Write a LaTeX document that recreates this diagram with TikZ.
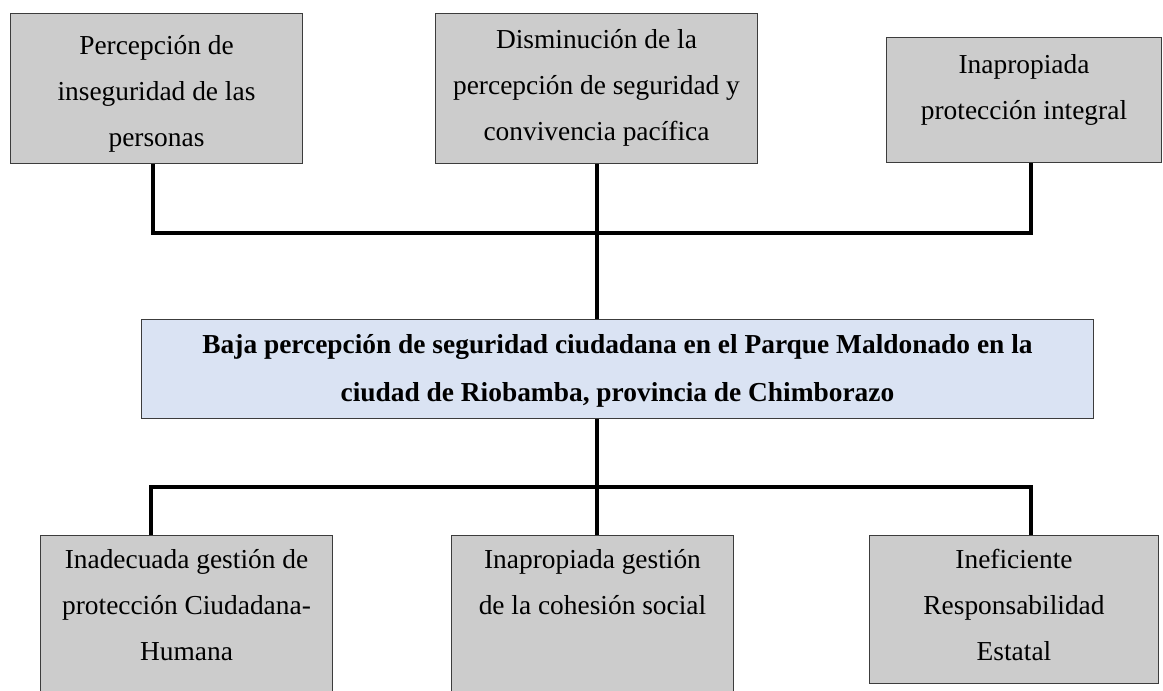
\documentclass[tikz,border=0pt]{standalone}
\usepackage{fontspec}
\setmainfont{Liberation Serif}
\usepackage{tikz}
\usetikzlibrary{positioning}
\usetikzlibrary{calc}

\definecolor{GrisCaja}{HTML}{CCCCCC}
\definecolor{AzulCaja}{HTML}{DAE3F3}
\definecolor{BordeCaja}{HTML}{3C3C3C}

% ancho, alto, primera linea base, texto
\newcommand{\caja}[4]{\parbox[c][#2pt][t]{#1pt}{\centering\rule{0pt}{#3pt}#4}}

\begin{document}
\begin{tikzpicture}[x=1pt,y=-1pt,line join=miter,
  efecto/.style={draw=BordeCaja,fill=GrisCaja,line width=1pt,inner sep=0pt,anchor=north west,font=\fontsize{27.4}{46}\selectfont},
  problema/.style={efecto,fill=AzulCaja,font=\fontsize{27.4}{48}\selectfont\bfseries},
  conector/.style={line width=4.5pt,color=black}]
\clip (0,0) rectangle (1163,691);
% \draw[step=50,gray,very thin] (0,0) grid (1163,691);

\draw (10,13) node[efecto](e1){\caja{292}{150}{41}{Percepción de\\inseguridad de las\\personas}};
\draw (435,13) node[efecto](e2){\caja{322}{150}{35}{Disminución de la\\percepción de seguridad y\\convivencia pacífica}};
\draw (886,37) node[efecto](e3){\caja{275}{125}{36}{Inapropiada\\protección integral}};

\draw (141,319) node[problema](pb){\caja{952}{99}{34}{Baja percepción de seguridad ciudadana en el Parque Maldonado en la\\ciudad de Riobamba, provincia de Chimborazo}};

\draw (40,535) node[efecto](c1){\caja{292}{160}{33}{Inadecuada gestión de\\protección Ciudadana-\\Humana}};
\draw (451,535) node[efecto](c2){\caja{282}{160}{33}{Inapropiada gestión\\de la cohesión social}};
\draw (869,535) node[efecto](c3){\caja{289}{148}{33}{Ineficiente\\Responsabilidad\\Estatal}};

\coordinate (be1) at (153,233);
\coordinate (be2) at (597,233);
\coordinate (be3) at (1031,233);
\coordinate (bc1) at (151,487);
\coordinate (bc2) at (597,487);
\coordinate (bc3) at (1031,487);

\draw[conector] (e1.south -| be1) -- (be1) -- (be3) -- (e3.south -| be3);
\draw[conector] (e2.south -| be2) -- (pb.north -| be2);

\draw[conector] (c1.north -| bc1) -- (bc1) -- (bc3) -- (c3.north -| bc3);
\draw[conector] (pb.south -| bc2) -- (c2.north -| bc2);
\end{tikzpicture}
\end{document}
